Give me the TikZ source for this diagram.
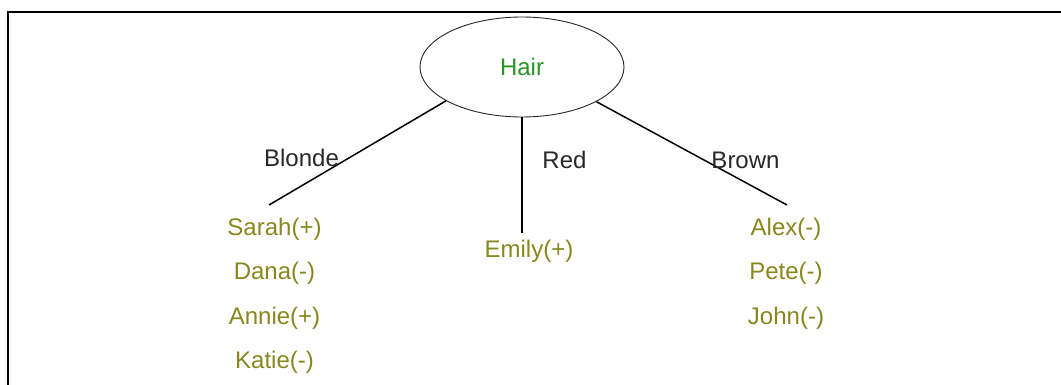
\documentclass[tikz,border=0pt]{standalone}
\usepackage{fontspec}
\setmainfont{Liberation Sans}
\usetikzlibrary{shapes.geometric}

\definecolor{hairgreen}{RGB}{38,150,38}
\definecolor{leafolive}{RGB}{135,135,30}
\definecolor{branchgray}{RGB}{40,40,40}

\begin{document}
\begin{tikzpicture}[x=1pt, y=-1pt,
    txt/.style    = {inner sep=0pt, anchor=base,
                     font=\fontsize{24}{29}\selectfont},
    branch/.style = {txt, text=branchgray},
    leaf/.style   = {txt, text=leafolive}]
  \useasboundingbox (0,0) rectangle (1061,385);
  \draw[line width=2.2pt] (8,385) -- (8,12) -- (1061,12);

  \node[draw = black!85,
        line width   = 0.9pt,
        ellipse,
        minimum width  = 204pt,
        minimum height = 100pt,
        text = hairgreen,
        font = \fontsize{24}{29}\selectfont] (hair) at (522,67) {Hair};

  \coordinate (blondeEnd) at (269,205);
  \coordinate (redEnd)    at (522,233);
  \coordinate (brownEnd)  at (787,205);
  \draw[line width=1.5pt] (hair.204) -- (blondeEnd);
  \draw[line width=1.5pt] (hair.south) -- (redEnd);
  \draw[line width=1.5pt] (hair.335) -- (brownEnd);

  \node[branch] (blonde) at (301.5,167) {Blonde};
  \node[branch] (red)    at (564.5,168) {Red};
  \node[branch] (brown)  at (745.5,168) {Brown};

  \node[leaf] (sarah) at (274.5,235)   {Sarah(+)};
  \node[leaf] (dana)  at (274.5,279.5) {Dana(-)};
  \node[leaf] (annie) at (274.5,324)   {Annie(+)};
  \node[leaf] (katie) at (274.5,368.5) {Katie(-)};

  \node[leaf] (emily) at (529,258) {Emily(+)};

  \node[leaf] (alex) at (786,235)   {Alex(-)};
  \node[leaf] (pete) at (786,279.5) {Pete(-)};
  \node[leaf] (john) at (786,324)   {John(-)};
\end{tikzpicture}
\end{document}
